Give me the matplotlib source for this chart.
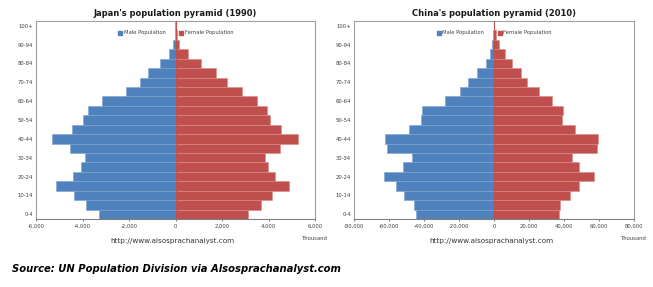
import matplotlib
matplotlib.use("Agg")
import matplotlib.pyplot as plt
from matplotlib.lines import Line2D
from matplotlib.ticker import FuncFormatter

age_groups = ["0-4", "5-9", "10-14", "15-19", "20-24", "25-29", "30-34", "35-39",
              "40-44", "45-49", "50-54", "55-59", "60-64", "65-69", "70-74", "75-79",
              "80-84", "85-89", "90-94", "95-99", "100+"]

japan_male = [3290, 3830, 4380, 5120, 4430, 4050, 3900, 4530, 5310, 4460, 3970,
              3760, 3180, 2150, 1540, 1180, 650, 260, 100, 30, 5]
japan_female = [3130, 3660, 4170, 4890, 4290, 3990, 3850, 4490, 5250, 4530, 4080,
                3920, 3490, 2880, 2200, 1760, 1090, 550, 160, 50, 10]

china_male = [44700, 46000, 51600, 56100, 62900, 51800, 47000, 60900, 62500, 48400,
              41800, 41300, 28000, 19400, 14700, 9900, 4800, 2300, 1300, 300, 50]
china_female = [37100, 37700, 43400, 48800, 57100, 48800, 44800, 58700, 59400, 46300,
                38900, 39200, 33000, 25900, 19000, 15200, 10500, 6300, 2900, 1000, 100]

japan_ticks = [-6000, -4000, -2000, 0, 2000, 4000, 6000]
china_ticks = [-80000, -60000, -40000, -20000, 0, 20000, 40000, 60000, 80000]

titles = ["Japan's population pyramid (1990)", "China's population pyramid (2010)"]
url_text = "http://www.alsosprachanalyst.com"
source_text = "Source: UN Population Division via Alsosprachanalyst.com"

MALE_C = "#4F81BD"
FEMALE_C = "#C0504D"
TEXT_C = "#404040"

W, H = 653, 287
fig = plt.figure(figsize=(W / 100, H / 100), dpi=100)
fig.patch.set_facecolor("white")

def px_axes(l, t, r, b):
    return fig.add_axes([l / W, 1 - b / H, (r - l) / W, (b - t) / H])

panels = [
    (px_axes(36, 21, 315, 219), japan_male, japan_female, japan_ticks, titles[0]),
    (px_axes(354, 21, 634, 219), china_male, china_female, china_ticks, titles[1]),
]

fmt = FuncFormatter(lambda v, p: "{:,.0f}".format(v))

for ax, male, female, ticks, title in panels:
    y = list(range(len(age_groups)))
    ax.barh(y, [-v for v in male], height=1.0, color=MALE_C,
            edgecolor="#7fa3d1", linewidth=0.4, zorder=2)
    ax.barh(y, female, height=1.0, color=FEMALE_C,
            edgecolor="#d98a88", linewidth=0.4, zorder=2)
    ax.axvline(0, color=FEMALE_C, lw=0.8, zorder=3)
    ax.set_ylim(-0.5, len(age_groups) - 0.5)
    ax.set_xlim(ticks[0], ticks[-1])
    ax.set_xticks(ticks)
    ax.xaxis.set_major_formatter(fmt)
    ax.set_yticks(y[::2])
    ax.set_yticklabels(age_groups[::2])
    ax.tick_params(axis="both", labelsize=3.8, colors=TEXT_C, length=1.5,
                   width=0.5, pad=2)
    ax.tick_params(axis="y", length=0)
    for s in ax.spines.values():
        s.set_color("#a0a0a0")
        s.set_linewidth(0.8)
    ax.spines["bottom"].set_color("#808080")
    ax.set_title(title, fontsize=6, fontweight="bold", color="#1a1a1a", pad=3.5)
    handles = [Line2D([], [], marker="s", ls="", color=MALE_C, markersize=2.2),
               Line2D([], [], marker="s", ls="", color=FEMALE_C, markersize=2.2)]
    ax.legend(handles, ["Male Population", "Female Population"], ncol=2,
              loc="center", bbox_to_anchor=(0.5, 0.94), frameon=False,
              fontsize=3.8, handletextpad=0.1, columnspacing=2.5,
              handlelength=1.0, labelcolor=TEXT_C)
    ax.text(1.0, -0.085, "Thousand", transform=ax.transAxes, ha="center",
            va="top", fontsize=3.8, color=TEXT_C)
    ax.text(0.49, -0.095, url_text, transform=ax.transAxes, ha="center",
            va="top", fontsize=5.2, color="#333333")

fig.text(12 / W, 1 - 269 / H, source_text, ha="left", va="center",
         fontsize=7.2, fontweight="bold", fontstyle="italic", color="black")

fig.savefig("out.png", dpi=100, facecolor="white")
